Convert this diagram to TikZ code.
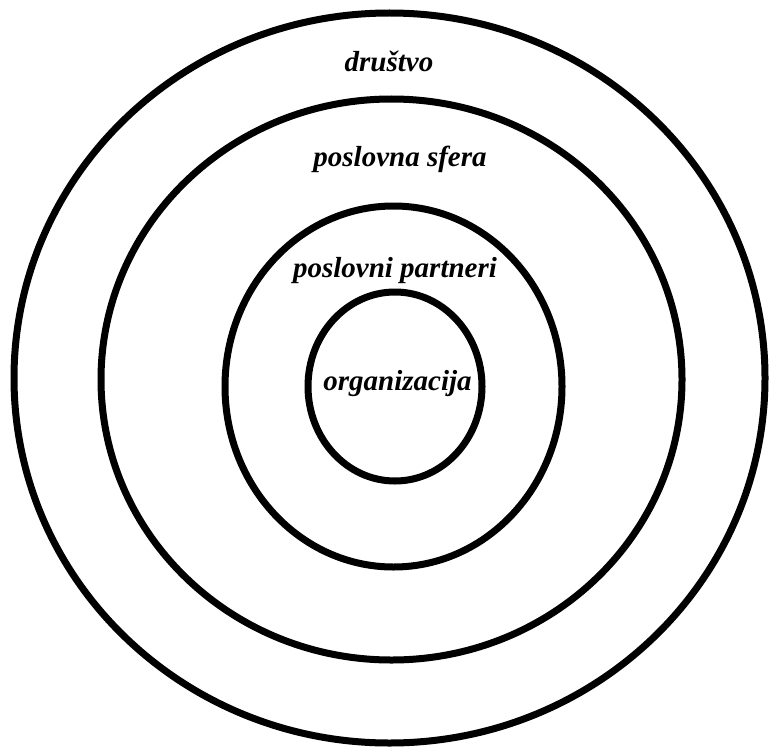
\documentclass[tikz,border=0pt]{standalone}
\usepackage{fontspec}
\setmainfont{Liberation Serif}
\usetikzlibrary{shapes.geometric}
\tikzset{
  ring/.style={ellipse, draw=black, line width=7pt, inner sep=0pt, outer sep=0pt},
  lab/.style={anchor=base, font=\fontsize{29}{32}\selectfont\bfseries\itshape, inner sep=0pt}
}
\begin{document}
\begin{tikzpicture}[x=1pt,y=-1pt]
\useasboundingbox (0,0) rectangle (770,749);
\node[ring, minimum width=751pt, minimum height=730pt] (outer) at (389.5,378) {};
\node[ring, minimum width=581pt, minimum height=561pt] (sphere) at (391.5,379.5) {};
\node[ring, minimum width=337pt, minimum height=361pt] (partners) at (393.5,386.5) {};
\node[ring, minimum width=174pt, minimum height=189pt] (org) at (395,386.5) {};
\node[lab] (t1) at (389,72) {društvo};
\node[lab] (t2) at (400,166) {poslovna sfera};
\node[lab] (t3) at (395,277) {poslovni partneri};
\node[lab] (t4) at (397.5,390) {organizacija};
\end{tikzpicture}
\end{document}
